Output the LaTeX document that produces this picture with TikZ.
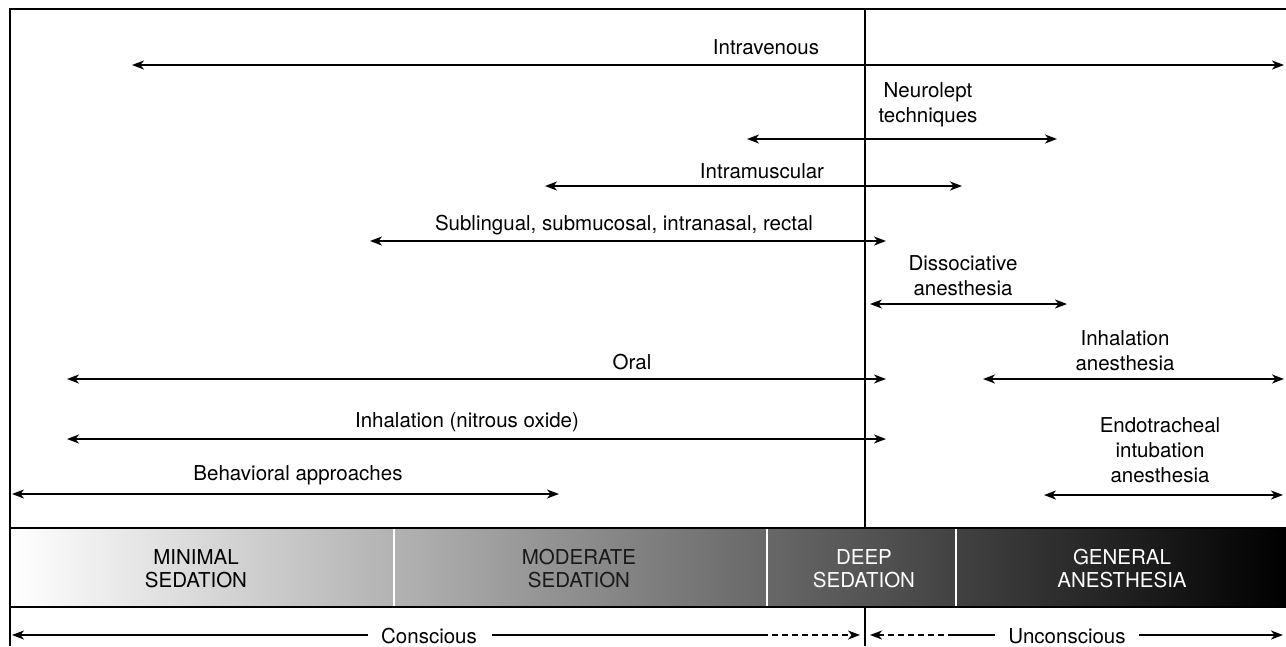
\documentclass[tikz,border=0pt]{standalone}
\usepackage{fontspec}
\setmainfont{TeX Gyre Heros}
\usetikzlibrary{arrows.meta,calc}
\begin{document}
\begin{tikzpicture}[x=1pt,y=-1pt,
  lbl/.style={font=\fontsize{20.5}{25}\selectfont, align=center, inner sep=0pt},
  barlbl/.style={lbl, font=\fontsize{20.5}{23}\selectfont},
  rng/.style={line width=1.5pt, {Stealth[length=12pt,width=9pt,inset=3.5pt]}-{Stealth[length=12pt,width=9pt,inset=3.5pt]}},
  frame/.style={line width=2.7pt},
  sep/.style={white, line width=2pt},
  sol/.style={line width=1.5pt},
  dsh/.style={line width=1.5pt, dash pattern=on 6pt off 4pt}
]
\useasboundingbox (0,0) rectangle (1286,646);
% gradient bar
\shade[left color=white, right color=black] (10,528) rectangle (1286,607);
\draw[sep] (394,529) -- (394,606);
\draw[sep] (767,529) -- (767,606);
\draw[sep] (956,529) -- (956,606);
% frame
\draw[frame] (1286,9) -- (10,9) -- (10,646);
\draw[frame] (10,528) -- (1286,528);
\draw[frame] (10,607) -- (1286,607);
\draw[frame] (865,9) -- (865,528);
\draw[frame] (865,607) -- (865,646);
% bar labels
\node[barlbl] (min) at (196,569) {MINIMAL\\SEDATION};
\node[barlbl, text=black!90] (mod) at (579,569) {MODERATE\\SEDATION};
\node[barlbl, text=white] (deep) at (864,569) {DEEP\\SEDATION};
\node[barlbl, text=white] (gen) at (1122,569) {GENERAL\\ANESTHESIA};
% range coordinates
\coordinate (iv1) at (132,65);  \coordinate (iv2) at (1284,65);
\coordinate (nl1) at (747,139); \coordinate (nl2) at (1057,139);
\coordinate (im1) at (545,186); \coordinate (im2) at (962,186);
\coordinate (sl1) at (370,241); \coordinate (sl2) at (886,241);
\coordinate (da1) at (870,304); \coordinate (da2) at (1067,304);
\coordinate (or1) at (67,379);  \coordinate (or2) at (886,379);
\coordinate (ia1) at (983,379); \coordinate (ia2) at (1284,379);
\coordinate (no1) at (67,439);  \coordinate (no2) at (886,439);
\coordinate (et1) at (1044,495);\coordinate (et2) at (1283,495);
\coordinate (ba1) at (12,494);  \coordinate (ba2) at (559,494);
\draw[rng] (iv1) -- (iv2);
\draw[rng] (nl1) -- (nl2);
\draw[rng] (im1) -- (im2);
\draw[rng] (sl1) -- (sl2);
\draw[rng] (da1) -- (da2);
\draw[rng] (or1) -- (or2);
\draw[rng] (ia1) -- (ia2);
\draw[rng] (no1) -- (no2);
\draw[rng] (et1) -- (et2);
\draw[rng] (ba1) -- (ba2);
% labels
\node[lbl] (ivl) at (766,47) {Intravenous};
\node[lbl] (nll) at (928,105) {Neurolept\\techniques};
\node[lbl] (iml) at (762,171) {Intramuscular};
\node[lbl] (sll) at (624,225) {Sublingual, submucosal, intranasal, rectal};
\node[lbl] (dal) at (963,276) {Dissociative\\anesthesia};
\node[lbl] (orl) at (632,362) {Oral};
\node[lbl] (ial) at (1125,351) {Inhalation\\anesthesia};
\node[lbl] (nol) at (467,422) {Inhalation (nitrous oxide)};
\node[lbl] (etl) at (1160,450) {Endotracheal\\intubation\\anesthesia};
\node[lbl] (bal) at (298,475) {Behavioral approaches};
% conscious / unconscious
\node[lbl] (con) at (429,636) {Conscious};
\node[lbl] (unc) at (1067,636) {Unconscious};
\coordinate (c0) at (12,635);
\coordinate (c1) at (368,635);
\coordinate (c2) at (492,635);
\coordinate (c3) at (762,635);
\coordinate (c4) at (860,635);
\coordinate (u0) at (870,635);
\coordinate (u1) at (954,635);
\coordinate (u2) at (995,635);
\coordinate (u3) at (1139,635);
\coordinate (u4) at (1283,635);
\draw[sol, {Stealth[length=12pt,width=9pt,inset=3.5pt]}-] (c0) -- (c1);
\draw[sol] (c2) -- (c3);
\draw[dsh, -{Stealth[length=12pt,width=9pt,inset=3.5pt]}] (c3) -- (c4);
\draw[dsh, {Stealth[length=12pt,width=9pt,inset=3.5pt]}-] (u0) -- (u1);
\draw[sol] (u1) -- (u2);
\draw[sol, -{Stealth[length=12pt,width=9pt,inset=3.5pt]}] (u3) -- (u4);
\end{tikzpicture}
\end{document}
